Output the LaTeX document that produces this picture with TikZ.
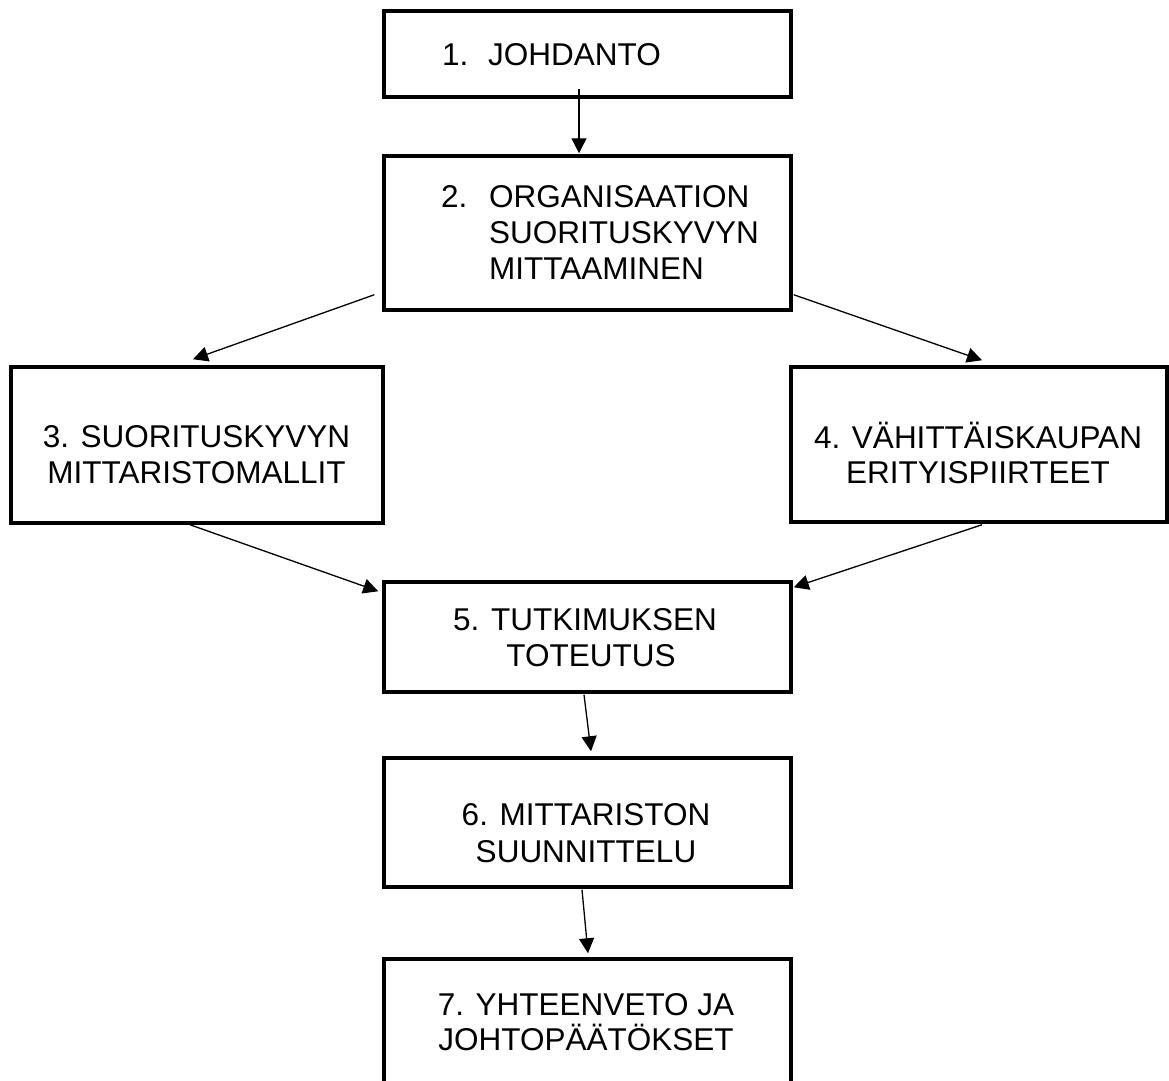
\documentclass[tikz,border=0pt]{standalone}
\usepackage{fontspec}
\setmainfont{Liberation Sans}
\usetikzlibrary{arrows.meta}
\tikzset{
  box/.style={draw=black, line width=3.5pt, inner sep=0pt, rectangle},
  txt/.style={inner sep=0pt, anchor=base, font=\fontsize{31.5}{36}\selectfont},
  txtl/.style={txt, anchor=base west},
  arr/.style={draw=black, line width=1.3pt, -{Triangle[length=15pt,width=15pt]}}
}
\begin{document}
\begin{tikzpicture}[x=1pt,y=-1pt]
\useasboundingbox (0,0) rectangle (1169,1080);
\fill[white] (0,0) rectangle (1169,1080);
% boxes
\node[box, minimum width=407pt, minimum height=86pt]  (b1) at (587.5,54) {};
\node[box, minimum width=407pt, minimum height=154pt] (b2) at (587.5,233) {};
\node[box, minimum width=372pt, minimum height=156pt] (b3) at (197,445) {};
\node[box, minimum width=376pt, minimum height=155pt] (b4) at (979,444.5) {};
\node[box, minimum width=407pt, minimum height=110pt] (b5) at (587.5,637) {};
\node[box, minimum width=407pt, minimum height=129pt] (b6) at (587.5,822.5) {};
\node[box, minimum width=407pt, minimum height=126pt] (b7) at (587.5,1022) {};
% texts
\node[txtl] (t1) at (442,65) {\makebox[46pt][l]{1.}JOHDANTO};
\node[txtl] (t2a) at (441,207) {\makebox[48pt][l]{2.}ORGANISAATION};
\node[txtl] (t2b) at (489,243) {SUORITUSKYVYN};
\node[txtl] (t2c) at (489,279) {MITTAAMINEN};
\node[txt] (t3a) at (196.5,447) {3. SUORITUSKYVYN};
\node[txt] (t3b) at (196.5,483) {MITTARISTOMALLIT};
\node[txt] (t4a) at (978,448) {4. VÄHITTÄISKAUPAN};
\node[txt] (t4b) at (978,483) {ERITYISPIIRTEET};
\node[txt] (t5a) at (585,630) {5. TUTKIMUKSEN};
\node[txt] (t5b) at (591,666) {TOTEUTUS};
\node[txt] (t6a) at (586,825) {6. MITTARISTON};
\node[txt] (t6b) at (586,862) {SUUNNITTELU};
\node[txt] (t7a) at (586,1015) {7. YHTEENVETO JA};
\node[txt] (t7b) at (586,1050) {JOHTOPÄÄTÖKSET};
% connectors
\draw[arr] ([shift={(-8.5,-10)}]b1.south) -- ([shift={(-8.5,-1)}]b2.north);
\draw[arr] ([shift={(-8,-17)}]b2.south west) -- ([shift={(-4,-6)}]b3.north);
\draw[arr] ([shift={(1,-17)}]b2.south east) -- ([shift={(3,-5)}]b4.north);
\draw[arr] ([shift={(-7,0)}]b3.south) -- ([shift={(-4,11)}]b5.north west);
\draw[arr] ([shift={(3,1)}]b4.south) -- ([shift={(1,7)}]b5.north east);
\draw[arr] ([shift={(-3.5,1)}]b5.south) -- ([shift={(3.5,-5)}]b6.north);
\draw[arr] ([shift={(-5.5,1)}]b6.south) -- ([shift={(0.5,-4)}]b7.north);
\end{tikzpicture}
\end{document}
